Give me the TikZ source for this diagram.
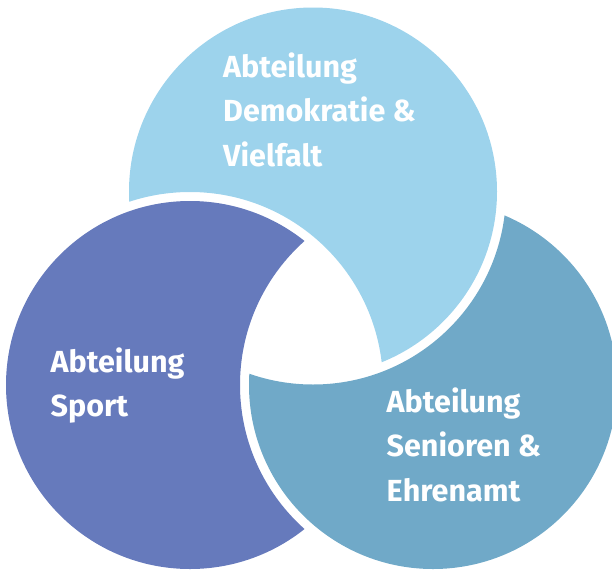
\documentclass[tikz,border=0pt]{standalone}
\usepackage{fontspec}
\setmainfont{Fira Sans}
\definecolor{topblue}{RGB}{157,211,236}
\definecolor{leftblue}{RGB}{102,122,188}
\definecolor{rightblue}{RGB}{112,169,200}
\begin{document}
\begin{tikzpicture}[x=1pt,y=-1pt,
  label text/.style={anchor=base west, align=left, inner sep=0pt, text=white,
    font=\fontsize{30.5}{44.4}\selectfont\bfseries}]
\useasboundingbox (0,0) rectangle (612,570);
\clip (0,0) rectangle (612,570);
\coordinate (T) at (313,191.5);
\coordinate (L) at (190,385);
\coordinate (R) at (433,385);
\def\rad{184pt}
\def\radgap{193pt}
% top crescent: T minus enlarged L
\begin{scope}[even odd rule]
  \clip (-20,-20) rectangle (640,600) (L) circle[radius=\radgap];
  \fill[topblue] (T) circle[radius=\rad];
\end{scope}
% left crescent: L minus enlarged R
\begin{scope}[even odd rule]
  \clip (-20,-20) rectangle (640,600) (R) circle[radius=\radgap];
  \fill[leftblue] (L) circle[radius=\rad];
\end{scope}
% right crescent: R minus enlarged T
\begin{scope}[even odd rule]
  \clip (-20,-20) rectangle (640,600) (T) circle[radius=\radgap];
  \fill[rightblue] (R) circle[radius=\rad];
\end{scope}
% base anchor of a multi-line node sits on its last line
\node[label text] (ttext) at (223,166) {Abteilung\\Demokratie \&\\Vielfalt};
\node[label text] (ltext) at (50.5,416.7) {Abteilung\\Sport};
\node[label text] (rtext) at (386.5,501) {Abteilung\\Senioren \&\\Ehrenamt};
\end{tikzpicture}
\end{document}
